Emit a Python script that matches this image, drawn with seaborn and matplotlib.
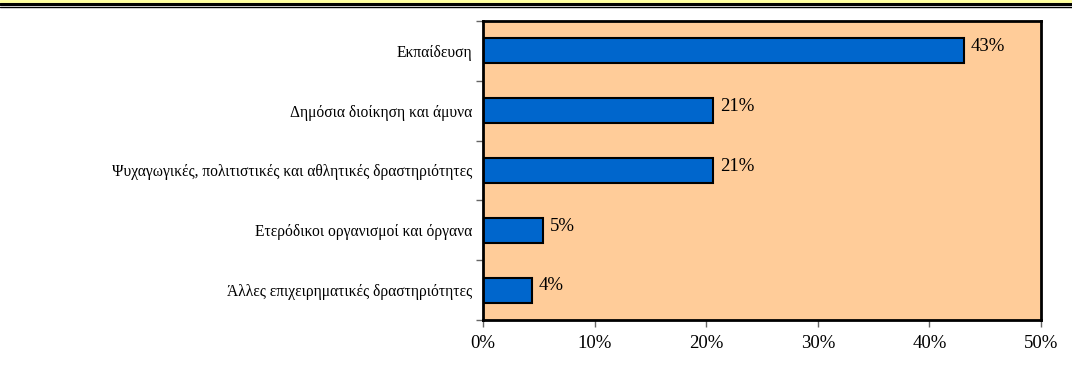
import matplotlib
matplotlib.use('Agg')
import matplotlib.pyplot as plt
from matplotlib.lines import Line2D
import seaborn as sns
import pandas as pd

# δεδομένα (ποσοστά)
categories = [
    'Εκπαίδευση',
    'Δημόσια διοίκηση και άμυνα',
    'Ψυχαγωγικές, πολιτιστικές και αθλητικές δραστηριότητες',
    'Ετερόδικοι οργανισμοί και όργανα',
    'Άλλες επιχειρηματικές δραστηριότητες',
]
values = [43.1, 20.6, 20.6, 5.4, 4.4]
value_labels = ['43%', '21%', '21%', '5%', '4%']
x_ticks = [0, 10, 20, 30, 40, 50]
x_tick_labels = ['0%', '10%', '20%', '30%', '40%', '50%']

df = pd.DataFrame({'cat': categories, 'val': values})

sns.set_style('white')
plt.rcParams['font.family'] = ['Liberation Serif', 'DejaVu Serif']
plt.rcParams['text.color'] = 'black'
plt.rcParams['xtick.color'] = 'black'
plt.rcParams['ytick.color'] = 'black'

fig = plt.figure(figsize=(10.72, 3.74), dpi=100)
ax = fig.add_axes([0.4506, 0.1444, 0.5205, 0.7995])

sns.barplot(data=df, x='val', y='cat', orient='h', color='#0066CC',
            saturation=1, width=0.42, edgecolor='black', linewidth=1.5, ax=ax)

ax.set_facecolor('#FFCC99')
ax.set_xlim(0, 50)
ax.set_ylim(4.5, -0.5)
ax.set_xticks(x_ticks)
ax.set_xticklabels(x_tick_labels, fontsize=13.5)
ax.set_xlabel('')
ax.set_ylabel('')

# ετικέτες κατηγοριών στο κέντρο, υποδιαιρέσεις στα όρια
ax.set_yticks(range(len(categories)))
ax.set_yticklabels(categories, fontsize=11.2)
ax.set_yticks([i - 0.5 for i in range(len(categories) + 1)], minor=True)
ax.tick_params(axis='y', which='major', left=True, length=0, pad=8)
ax.tick_params(axis='y', which='minor', left=True, length=5, color='#666666',
               width=1, direction='out')
ax.tick_params(axis='x', which='major', bottom=True, length=5, color='#666666',
               width=1, direction='out', pad=6)

for s in ax.spines.values():
    s.set_color('black')
    s.set_linewidth(2)

for i, (v, lab) in enumerate(zip(values, value_labels)):
    ax.text(v + 0.6, i - 0.07, lab, va='center', ha='left', fontsize=13.5)

# διπλή γραμμή στην κορυφή
fig.add_artist(Line2D([0, 1], [1 - 1/374, 1 - 1/374], color='#FFFF99', lw=2))
fig.add_artist(Line2D([0, 1], [1 - 3.5/374, 1 - 3.5/374], color='black', lw=2.2))
fig.add_artist(Line2D([0, 1], [1 - 6.5/374, 1 - 6.5/374], color='black', lw=1))

plt.savefig('out.png', dpi=100)
